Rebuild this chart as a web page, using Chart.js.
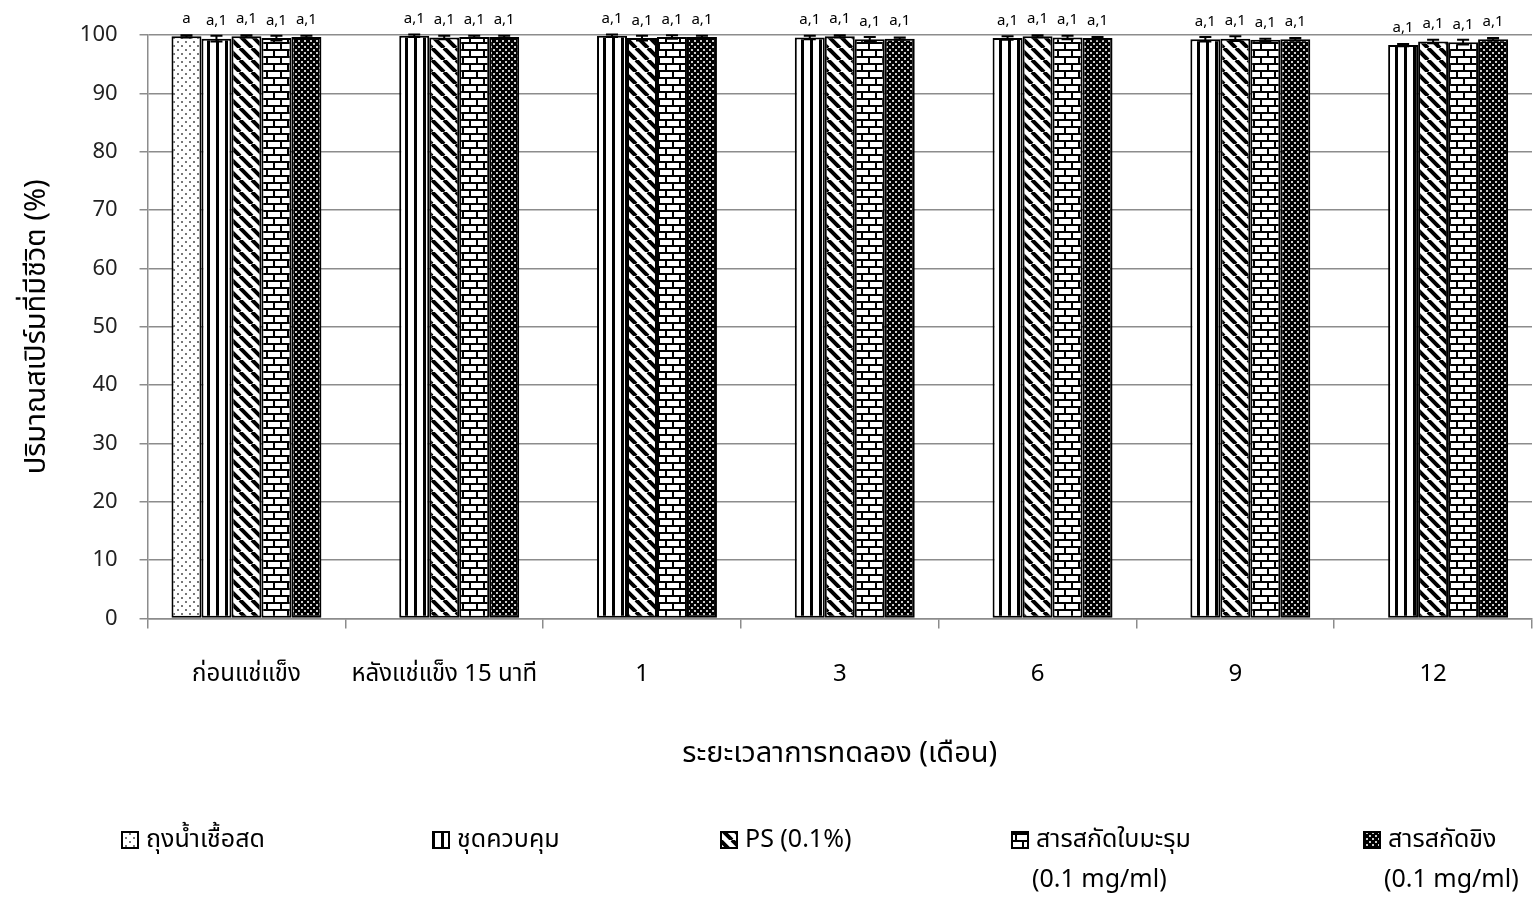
<!DOCTYPE html>
<html>
<head>
<meta charset="utf-8">
<script src="https://cdn.jsdelivr.net/npm/chart.js@4.4.0/dist/chart.umd.min.js"></script>
<style>
  html, body { margin: 0; padding: 0; background: #fff; }
  #wrap { width: 1533px; height: 898px; }
</style>
</head>
<body>
<div id="wrap"><canvas id="grafico"></canvas></div>
<script>
// Dados do gráfico
const categorias = ['ก่อนแช่แข็ง', 'หลังแช่แข็ง 15 นาที', '1', '3', '6', '9', '12'];
const nomesSeries = [['ถุงน้ำเชื้อสด'], ['ชุดควบคุม'], ['PS (0.1%)'], ['สารสกัดใบมะรุม', '(0.1 mg/ml)'], ['สารสกัดขิง', '(0.1 mg/ml)']];
const yTicks = [0, 10, 20, 30, 40, 50, 60, 70, 80, 90, 100];

const fresco   = [99.8, null, null, null, null, null, null];
const controle = [99.4, 99.9, 99.9, 99.6, 99.5, 99.3, 98.3];
const ps       = [99.8, 99.6, 99.5, 99.8, 99.8, 99.4, 98.9];
const moringa  = [99.5, 99.7, 99.7, 99.3, 99.6, 99.2, 98.8];
const gengibre = [99.7, 99.7, 99.7, 99.4, 99.5, 99.3, 99.3];

const erroFresco   = [0.2, null, null, null, null, null, null];
const erroControle = [0.5, 0.2, 0.2, 0.3, 0.3, 0.4, 0.2];
const erroPs       = [0.2, 0.3, 0.4, 0.2, 0.2, 0.4, 0.3];
const erroMoringa  = [0.4, 0.2, 0.3, 0.4, 0.3, 0.2, 0.4];
const erroGengibre = [0.2, 0.2, 0.2, 0.2, 0.2, 0.2, 0.2];

const letraFresco = ['a', '', '', '', '', '', ''];
const letraOutros = ['a,1', 'a,1', 'a,1', 'a,1', 'a,1', 'a,1', 'a,1'];

const fonte = '"Noto Sans", "Noto Sans Thai", "DejaVu Sans", sans-serif';
const cinza = '#8c8c8c';

// Padrões de preenchimento (hachuras)
function padrao(w, h, desenha) {
    const c = document.createElement('canvas');
    c.width = w; c.height = h;
    const g = c.getContext('2d');
    g.fillStyle = '#fff';
    g.fillRect(0, 0, w, h);
    desenha(g, w, h);
    return g.createPattern(c, 'repeat');
}

const pPontos = padrao(8, 8, (g) => {
    g.fillStyle = '#777';
    g.fillRect(1, 1, 2, 2);
    g.fillRect(5, 5, 2, 2);
});
const pVertical = padrao(9, 4, (g) => {
    g.fillStyle = '#000';
    g.fillRect(0, 0, 3, 4);
});
const pDiagonal = padrao(12, 12, (g) => {
    g.strokeStyle = '#000';
    g.lineWidth = 4;
    g.beginPath();
    [-12, 0, 12].forEach(k => { g.moveTo(k, 0); g.lineTo(k + 12, 12); });
    g.stroke();
});
const pTijolo = padrao(14, 14, (g) => {
    g.fillStyle = '#000';
    g.fillRect(0, 0, 14, 2);
    g.fillRect(0, 7, 14, 2);
    g.fillRect(0, 0, 2, 7);
    g.fillRect(7, 7, 2, 7);
});
const pDenso = padrao(6, 6, (g) => {
    g.fillStyle = '#000';
    g.fillRect(0, 0, 6, 6);
    g.fillStyle = '#ccc';
    g.fillRect(1, 1, 2, 2);
    g.fillRect(4, 4, 2, 2);
});

function serie(i, dados, erros, letras, fundo) {
    return {
        label: nomesSeries[i].join(' '),
        data: dados,
        erros: erros,
        letras: letras,
        backgroundColor: fundo,
        borderColor: '#000',
        borderWidth: 2,
        borderSkipped: false
    };
}

// Barras de erro e letras acima das barras
const errosPlugin = {
    id: 'errosPlugin',
    afterDatasetsDraw(chart) {
        const ctx = chart.ctx;
        const y = chart.scales.y;
        ctx.save();
        chart.data.datasets.forEach((ds, i) => {
            const meta = chart.getDatasetMeta(i);
            meta.data.forEach((bar, j) => {
                const v = ds.data[j];
                if (v === null) return;
                const e = ds.erros[j];
                const yTop = y.getPixelForValue(v + e);
                const yBot = y.getPixelForValue(v - e);
                ctx.strokeStyle = '#000';
                ctx.lineWidth = 2;
                ctx.beginPath();
                ctx.moveTo(bar.x, yTop); ctx.lineTo(bar.x, yBot);
                ctx.moveTo(bar.x - 6, yTop); ctx.lineTo(bar.x + 6, yTop);
                ctx.moveTo(bar.x - 6, yBot); ctx.lineTo(bar.x + 6, yBot);
                ctx.stroke();
                ctx.fillStyle = '#000';
                ctx.font = '15px ' + fonte;
                ctx.textAlign = 'center';
                ctx.textBaseline = 'bottom';
                ctx.fillText(ds.letras[j], bar.x, y.getPixelForValue(v) - 10);
            });
        });
        ctx.restore();
    }
};

// Legenda desenhada embaixo
const legendaX = [122, 433, 721, 1012, 1364];
const legendaPlugin = {
    id: 'legendaPlugin',
    afterDraw(chart) {
        const ctx = chart.ctx;
        ctx.save();
        chart.data.datasets.forEach((ds, i) => {
            const x = legendaX[i];
            const yl = 840;
            ctx.fillStyle = ds.backgroundColor;
            ctx.fillRect(x, yl - 8, 16, 16);
            ctx.strokeStyle = '#000';
            ctx.lineWidth = 2;
            ctx.strokeRect(x, yl - 8, 16, 16);
            ctx.fillStyle = '#000';
            ctx.font = '25px ' + fonte;
            ctx.textAlign = 'left';
            ctx.textBaseline = 'middle';
            nomesSeries[i].forEach((linha, k) => {
                ctx.fillText(linha, x + 24 + (k > 0 ? -4 : 0), yl + k * 40);
            });
        });
        ctx.restore();
    }
};

new Chart(document.getElementById('grafico').getContext('2d'), {
    type: 'bar',
    data: {
        labels: categorias,
        datasets: [
            serie(0, fresco, erroFresco, letraFresco, pPontos),
            serie(1, controle, erroControle, letraOutros, pVertical),
            serie(2, ps, erroPs, letraOutros, pDiagonal),
            serie(3, moringa, erroMoringa, letraOutros, pTijolo),
            serie(4, gengibre, erroGengibre, letraOutros, pDenso)
        ]
    },
    options: {
        responsive: true,
        maintainAspectRatio: false,
        animation: false,
        layout: { padding: { top: 35, right: 1, left: 15, bottom: 123 } },
        datasets: { bar: { categoryPercentage: 0.758, barPercentage: 1 } },
        plugins: {
            legend: { display: false },
            tooltip: { enabled: false }
        },
        scales: {
            x: {
                grid: { offset: true, drawOnChartArea: false, drawTicks: true, tickLength: 10, color: cinza, lineWidth: 1.5 },
                border: { color: cinza, width: 1.5 },
                ticks: { color: '#000', font: { family: fonte, size: 24 }, padding: 31, maxRotation: 0 },
                title: { display: true, text: 'ระยะเวลาการทดลอง (เดือน)', color: '#000', font: { family: fonte, size: 29 }, padding: { top: 17 } }
            },
            y: {
                min: 0,
                max: 100,
                afterBuildTicks(axis) { axis.ticks = yTicks.map(v => ({ value: v })); },
                grid: { color: cinza, lineWidth: 1.5, tickLength: 8 },
                border: { color: cinza, width: 1.5 },
                ticks: { color: '#222', font: { family: fonte, size: 22 }, padding: 22 },
                title: { display: true, text: 'ปริมาณสเปิร์มที่มีชีวิต (%)', color: '#000', font: { family: fonte, size: 29 }, padding: { bottom: 4 } }
            }
        }
    },
    plugins: [errosPlugin, legendaPlugin]
});
</script>
</body>
</html>
